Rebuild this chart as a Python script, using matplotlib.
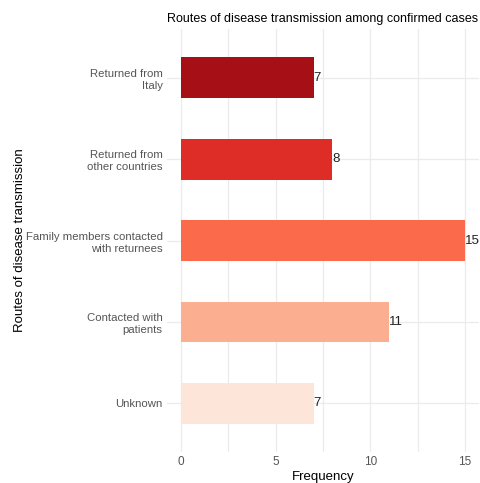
import matplotlib
matplotlib.use('Agg')
import matplotlib.pyplot as plt
from matplotlib.ticker import MultipleLocator

plt.rcParams['font.family'] = ['Liberation Sans', 'DejaVu Sans']

# Data (top to bottom)
routes = ['Returned from\nItaly', 'Returned from\nother countries',
          'Family members contacted\nwith returnees', 'Contacted with\npatients', 'Unknown']
freq = [7, 8, 15, 11, 7]
colors = ['#A50F15', '#DE2D26', '#FB6A4A', '#FCAE91', '#FEE5D9']

fig = plt.figure(figsize=(4.81, 4.83), dpi=100)
ax = fig.add_axes([0.347, 0.064, 0.649, 0.876])

ypos = list(range(len(routes)))[::-1]
ax.barh(ypos, freq, height=0.5, color=colors, zorder=2)
for y, v in zip(ypos, freq):
    ax.text(v, y, str(v), ha='left', va='center', fontsize=9.5, color='#222222', zorder=3)

ax.set_xlim(-0.75, 15.75)
ax.set_ylim(-0.6, 4.6)
ax.set_yticks(ypos)
ax.set_yticklabels(routes, fontsize=8.2, color='#555555', linespacing=1.25)
ax.xaxis.set_major_locator(MultipleLocator(5))
ax.xaxis.set_minor_locator(MultipleLocator(2.5))
ax.tick_params(axis='x', labelsize=8.5, colors='#555555', length=0, pad=3)
ax.tick_params(axis='y', length=0, pad=3)
ax.tick_params(which='minor', length=0)

ax.grid(True, which='major', color='#EBEBEB', linewidth=0.9, zorder=0)
ax.grid(True, which='minor', axis='x', color='#EBEBEB', linewidth=0.9, zorder=0)
for s in ax.spines.values():
    s.set_visible(False)

ax.set_xlabel('Frequency', fontsize=9.5, color='black', labelpad=2)
ax.set_ylabel('Routes of disease transmission', fontsize=9.5, color='black', labelpad=0)
ax.set_title('Routes of disease transmission among confirmed cases', fontsize=9,
             loc='left', pad=5)

fig.savefig('out.png', dpi=100)
